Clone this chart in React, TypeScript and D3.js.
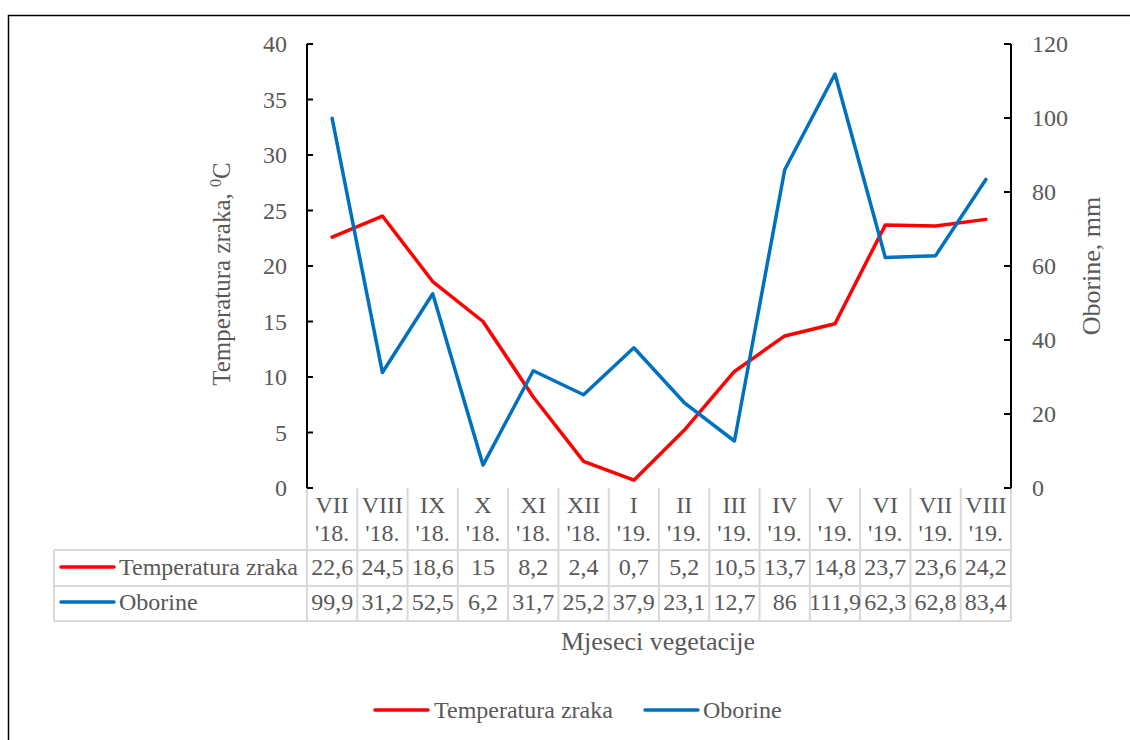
import React, { useEffect } from "react";
import * as d3 from "d3";

const months = ["VII", "VIII", "IX", "X", "XI", "XII", "I", "II", "III", "IV", "V", "VI", "VII", "VIII"];
const years = ["'18.", "'18.", "'18.", "'18.", "'18.", "'18.", "'19.", "'19.", "'19.", "'19.", "'19.", "'19.", "'19.", "'19."];
const temperature = [22.6, 24.5, 18.6, 15, 8.2, 2.4, 0.7, 5.2, 10.5, 13.7, 14.8, 23.7, 23.6, 24.2];
const precipitation = [99.9, 31.2, 52.5, 6.2, 31.7, 25.2, 37.9, 23.1, 12.7, 86, 111.9, 62.3, 62.8, 83.4];
const leftTicks = [0, 5, 10, 15, 20, 25, 30, 35, 40];
const rightTicks = [0, 20, 40, 60, 80, 100, 120];
const seriesNames = ["Temperatura zraka", "Oborine"];
const seriesColors = ["#FF0000", "#0070C0"];

const FONT = "'Liberation Serif', 'Times New Roman', serif";
const TXT = "#595959";
const GRID = "#d9d9d9";

const fmt = (v: number) => String(v).replace(".", ",");

export default function App() {
  useEffect(() => {
    document.body.style.overflow = "hidden";
  }, []);

  const left = 307, right = 1011, top = 44, bottom = 488;
  const x = d3.scaleBand<number>().domain(d3.range(months.length)).range([left, right]).padding(0);
  const yL = d3.scaleLinear().domain([0, 40]).range([bottom, top]);
  const yR = d3.scaleLinear().domain([0, 120]).range([bottom, top]);
  const cx = (i: number) => (x(i) as number) + x.bandwidth() / 2;

  const lineT = d3.line<number>().x((_, i) => cx(i)).y((d) => yL(d));
  const lineP = d3.line<number>().x((_, i) => cx(i)).y((d) => yR(d));

  const tableLeft = 54;
  const rowTop1 = 550, rowTop2 = 586, rowBottom = 621;
  const colEdges = d3.range(months.length + 1).map((i) => (i < months.length ? (x(i) as number) : right));

  const fs = 24;

  return (
    <svg
      width={1130}
      height={740}
      style={{ position: "absolute", left: 0, top: 0, display: "block" }}
      fontFamily={FONT}
    >
      <rect x={0} y={0} width={1130} height={740} fill="#fff" />
      {/* chart border */}
      <path d={`M8.5,745 V15.5 H1135`} fill="none" stroke="#000" strokeWidth={1.5} />

      {/* table grid */}
      <g stroke={GRID} strokeWidth={2} fill="none">
        {colEdges.map((e, i) => (
          <line key={"v" + i} x1={e} x2={e} y1={bottom} y2={rowBottom} />
        ))}
        <line x1={tableLeft} x2={tableLeft} y1={rowTop1} y2={rowBottom} />
        <line x1={tableLeft} x2={right} y1={rowTop1} y2={rowTop1} />
        <line x1={tableLeft} x2={right} y1={rowTop2} y2={rowTop2} />
        <line x1={tableLeft} x2={right} y1={rowBottom} y2={rowBottom} />
      </g>

      {/* header labels */}
      {months.map((m, i) => (
        <g key={"h" + i} fill={TXT} fontSize={fs} textAnchor="middle">
          <text x={cx(i)} y={513}>{m}</text>
          <text x={cx(i)} y={541}>{years[i]}</text>
        </g>
      ))}

      {/* table values */}
      {temperature.map((v, i) => (
        <text key={"t" + i} x={cx(i)} y={575} fill={TXT} fontSize={fs} textAnchor="middle">{fmt(v)}</text>
      ))}
      {precipitation.map((v, i) => (
        <text key={"p" + i} x={cx(i)} y={610} fill={TXT} fontSize={fs} textAnchor="middle">{fmt(v)}</text>
      ))}

      {/* table row keys */}
      {seriesNames.map((n, k) => {
        const yy = k === 0 ? 567 : 602;
        return (
          <g key={"rk" + k}>
            <line x1={61} x2={114} y1={yy} y2={yy} stroke={seriesColors[k]} strokeWidth={3.5} strokeLinecap="round" />
            <text x={119} y={k === 0 ? 575 : 610} fill={TXT} fontSize={fs}>{n}</text>
          </g>
        );
      })}

      {/* axes */}
      <g stroke="#000" strokeWidth={2}>
        <line x1={left} x2={left} y1={top} y2={bottom} />
        {leftTicks.map((t) => (
          <line key={"lt" + t} x1={left} x2={left + 6} y1={yL(t)} y2={yL(t)} />
        ))}
        <line x1={right} x2={right} y1={top} y2={bottom} />
        {rightTicks.map((t) => (
          <line key={"rt" + t} x1={right - 7} x2={right} y1={yR(t)} y2={yR(t)} />
        ))}
      </g>
      {leftTicks.map((t) => (
        <text key={"ll" + t} x={287} y={yL(t) + 8} fill={TXT} fontSize={fs} textAnchor="end">{t}</text>
      ))}
      {rightTicks.map((t) => (
        <text key={"rl" + t} x={1032} y={yR(t) + 8} fill={TXT} fontSize={fs} textAnchor="start">{t}</text>
      ))}

      {/* series */}
      <path d={lineT(temperature) as string} fill="none" stroke={seriesColors[0]} strokeWidth={3.5} strokeLinejoin="round" strokeLinecap="round" />
      <path d={lineP(precipitation) as string} fill="none" stroke={seriesColors[1]} strokeWidth={3.5} strokeLinejoin="round" strokeLinecap="round" />

      {/* axis titles */}
      <text transform="translate(230,274) rotate(-90)" fill={TXT} fontSize={25} textAnchor="middle">
        Temperatura zraka, <tspan fontSize={16} dy={-9}>0</tspan><tspan dy={9}>C</tspan>
      </text>
      <text transform="translate(1100,266) rotate(-90)" fill={TXT} fontSize={26} textAnchor="middle">
        Oborine, mm
      </text>
      <text x={658} y={650} fill={TXT} fontSize={26} textAnchor="middle">Mjeseci vegetacije</text>

      {/* legend */}
      <line x1={375} x2={428} y1={710} y2={710} stroke={seriesColors[0]} strokeWidth={3.5} strokeLinecap="round" />
      <text x={434} y={718} fill={TXT} fontSize={fs}>{seriesNames[0]}</text>
      <line x1={645} x2={698} y1={710} y2={710} stroke={seriesColors[1]} strokeWidth={3.5} strokeLinecap="round" />
      <text x={703} y={718} fill={TXT} fontSize={fs}>{seriesNames[1]}</text>
    </svg>
  );
}
